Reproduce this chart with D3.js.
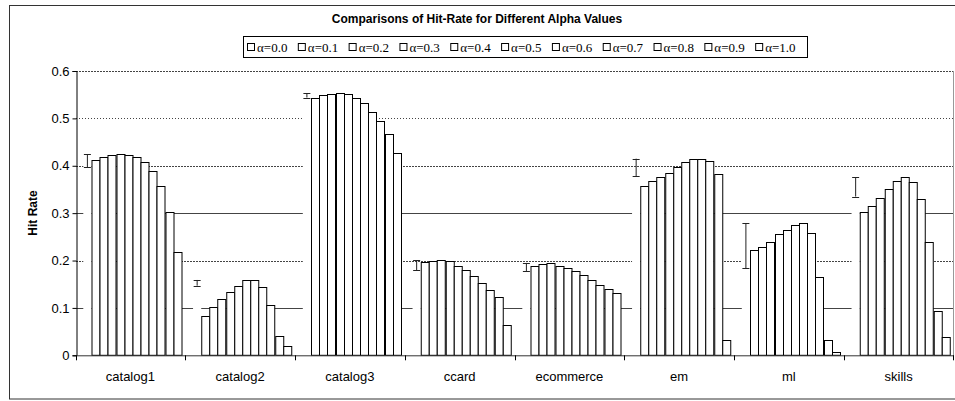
<!DOCTYPE html>
<html><head><meta charset="utf-8">
<script src="https://cdn.jsdelivr.net/npm/d3@7"></script>
<style>body{margin:0;background:#fff}svg{display:block}</style>
</head><body>
<svg id="c" width="955" height="401"></svg>
<script>
const categories = ["catalog1","catalog2","catalog3","ccard","ecommerce","em","ml","skills"];
const alphas = ["α=0.0","α=0.1","α=0.2","α=0.3","α=0.4","α=0.5","α=0.6","α=0.7","α=0.8","α=0.9","α=1.0"];
const hitRates = [
  [0.412,0.418,0.423,0.424,0.423,0.4185,0.408,0.389,0.358,0.3025,0.217],
  [0.0836,0.101,0.118,0.133,0.147,0.158,0.158,0.144,0.107,0.041,0.020],
  [0.544,0.550,0.552,0.553,0.551,0.544,0.532,0.514,0.494,0.466,0.426],
  [0.1976,0.198,0.2005,0.198,0.189,0.179,0.167,0.152,0.138,0.123,0.064],
  [0.1885,0.192,0.194,0.189,0.185,0.177,0.169,0.158,0.148,0.1406,0.1315],
  [0.358,0.367,0.3757,0.3855,0.398,0.407,0.4137,0.415,0.4095,0.3827,0.0323],
  [0.2216,0.229,0.2398,0.255,0.2645,0.2757,0.279,0.2575,0.166,0.0323,0.007],
  [0.3018,0.315,0.3327,0.3504,0.368,0.3757,0.365,0.3305,0.2385,0.0935,0.038]
];
const refMean = [0.41,0.153,0.5485,0.19,0.1865,0.3965,0.2315,0.3555];
const refLow  = [0.397,0.147,0.544,0.180,0.178,0.378,0.184,0.335];
const refHigh = [0.424,0.159,0.553,0.2005,0.195,0.415,0.279,0.376];
const yTicks = [0,0.1,0.2,0.3,0.4,0.5,0.6];
const yTickLabels = ["0","0.1","0.2","0.3","0.4","0.5","0.6"];

const SANS = "'Liberation Sans', Arial, sans-serif";
const SERIF = "'Liberation Serif', 'Times New Roman', serif";
const svg = d3.select("#c");
const L = 76, R = 953.5, T = 71, B = 355.3;

// frame
svg.append("rect").attr("x",9.5).attr("y",5.5).attr("width",970).attr("height",393.5)
  .attr("fill","none").attr("stroke","#333").attr("stroke-width",1);

// title
svg.append("text").attr("x",477).attr("y",23).attr("text-anchor","middle")
  .attr("font-family",SANS).attr("font-weight","bold")
  .attr("font-size",12).text("Comparisons of Hit-Rate for Different Alpha Values");

const x = d3.scaleBand().domain(categories).range([75.5, R]).padding(0);
const slots = ["ref", ...alphas];
const xi = d3.scaleBand().domain(slots).range([7.8, 106]).padding(0);
const y = d3.scaleLinear().domain([0,0.6]).range([B, T]);

// gridlines
const gridStyle = {0.1:null,0.2:"2,1",0.3:null,0.4:"2,1",0.5:"1,2",0.6:"2,1"};
svg.append("g").selectAll("line").data(yTicks.filter(d=>d>0)).join("line")
  .attr("x1",L).attr("x2",R).attr("y1",d=>Math.round(y(d))+0.5).attr("y2",d=>Math.round(y(d))+0.5)
  .attr("stroke","#444").attr("stroke-width",1)
  .attr("stroke-dasharray",d=>gridStyle[d]);

// right plot border
svg.append("line").attr("x1",R).attr("x2",R).attr("y1",T).attr("y2",B).attr("stroke","#999");

// groups
const g = svg.append("g").selectAll("g").data(categories).join("g")
  .attr("transform",d=>`translate(${x(d)},0)`);

// invisible reference bars (white) covering gridlines
g.append("rect").attr("x",xi("ref")).attr("width",xi.bandwidth())
  .attr("y",(d,i)=>y(refMean[i])).attr("height",(d,i)=>B-y(refMean[i])).attr("fill","#fff");

// bars
g.selectAll("rect.bar").data((d,i)=>hitRates[i].map((v,j)=>({v,a:alphas[j]}))).join("rect")
  .attr("class","bar")
  .attr("x",d=>Math.round(xi(d.a))+0.5).attr("width",d=>Math.round(xi.bandwidth()))
  .attr("y",d=>Math.round(y(d.v))+0.5).attr("height",d=>B-Math.round(y(d.v))-0.5)
  .attr("fill","#fff").attr("stroke","#000").attr("stroke-width",1);

// error bars
const eb = g.append("g").attr("stroke","#222").attr("stroke-width",1).attr("fill","none");
const cx = xi("ref")+xi.bandwidth()/2;
eb.append("line").attr("x1",cx).attr("x2",cx).attr("y1",(d,i)=>y(refLow[i])).attr("y2",(d,i)=>y(refHigh[i]));
eb.append("line").attr("x1",cx-3.5).attr("x2",cx+3.5).attr("y1",(d,i)=>Math.round(y(refLow[i]))+0.5).attr("y2",(d,i)=>Math.round(y(refLow[i]))+0.5);
eb.append("line").attr("x1",cx-3.5).attr("x2",cx+3.5).attr("y1",(d,i)=>Math.round(y(refHigh[i]))+0.5).attr("y2",(d,i)=>Math.round(y(refHigh[i]))+0.5);

// y axis
const yAxis = d3.axisLeft(y).tickValues(yTicks).tickSize(4).tickFormat((d,i)=>yTickLabels[i]);
const ya = svg.append("g").attr("transform",`translate(${L+0.5},0)`).call(yAxis);
ya.select(".domain").attr("stroke","#000");
ya.selectAll("text").attr("font-family",SANS).attr("font-size",13).attr("fill","#000").attr("x",-7);

// x axis
const xAxis = d3.axisBottom(x).tickSize(0).tickSizeOuter(0);
const xa = svg.append("g").attr("transform",`translate(0,${B})`).call(xAxis);
xa.select(".domain").attr("stroke","#333");
xa.selectAll("text").attr("font-family",SANS).attr("font-size",13).attr("fill","#000").attr("dy","0").attr("y",26);
// category boundary ticks
xa.append("g").selectAll("line").data(categories.concat(["__end"])).join("line")
  .attr("x1",(d,i)=>i<categories.length?Math.round(x(d))+0.5:R).attr("x2",(d,i)=>i<categories.length?Math.round(x(d))+0.5:R)
  .attr("y1",0).attr("y2",5).attr("stroke","#000");

// y title
svg.append("text").attr("transform","translate(37,213) rotate(-90)").attr("text-anchor","middle")
  .attr("font-family",SANS).attr("font-weight","bold").attr("font-size",12)
  .text("Hit Rate");

// legend
const lg = svg.append("g");
lg.append("rect").attr("x",243.5).attr("y",36.5).attr("width",564).attr("height",21)
  .attr("fill","#fff").attr("stroke","#000");
const lx = d3.scaleBand().domain(alphas).range([247, 806]);
const li = lg.selectAll("g.it").data(alphas).join("g").attr("class","it")
  .attr("transform",d=>`translate(${lx(d)},0)`);
li.append("rect").attr("x",0.5).attr("y",43.5).attr("width",7).attr("height",7).attr("fill","#fff").attr("stroke","#000");
li.append("text").attr("x",10).attr("y",51.5).attr("font-family",SERIF)
  .attr("font-size",13).text(d=>d);
</script>
</body></html>
